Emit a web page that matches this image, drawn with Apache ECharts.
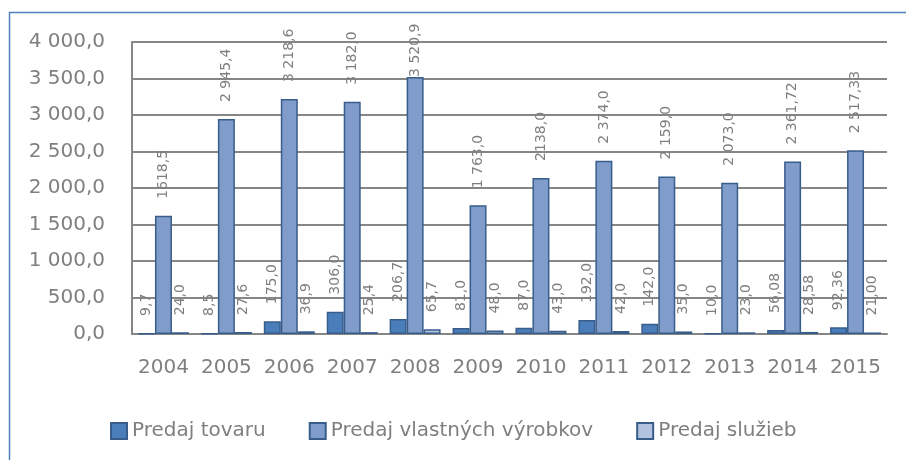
<!DOCTYPE html>
<html lang="sk">
<head>
    <meta charset="UTF-8">
    <title>Predaj 2004-2015</title>
    <script src="https://cdn.jsdelivr.net/npm/echarts@6/dist/echarts.min.js"></script>
    <style>
        html, body { margin: 0; padding: 0; background: #ffffff; }
        #main { width: 906px; height: 460px; }
    </style>
</head>
<body>
<div id="main"></div>

<script type="text/javascript">
    // roky
    var years = ['2004','2005','2006','2007','2008','2009','2010','2011','2012','2013','2014','2015'];

    // hodnoty radov
    var tovaru = [9.7, 8.5, 175.0, 306.0, 206.7, 81.0, 87.0, 192.0, 142.0, 10.0, 56.08, 92.36];
    var vyrobkov = [1618.5, 2945.4, 3218.6, 3182.0, 3520.9, 1763.0, 2138.0, 2374.0, 2159.0, 2073.0, 2361.72, 2517.33];
    var sluzieb = [24.0, 27.6, 36.9, 25.4, 65.7, 48.0, 43.0, 42.0, 35.0, 23.0, 28.58, 21.00];

    // popisky tak ako su v grafe
    var tovaruLbl = ['9,7','8,5','175,0','306,0','206,7','81,0','87,0','192,0','142,0','10,0','56,08','92,36'];
    var vyrobkovLbl = ['1618,5','2 945,4','3 218,6','3 182,0','3 520,9','1 763,0','2138,0','2 374,0','2 159,0','2 073,0','2 361,72','2 517,33'];
    var sluziebLbl = ['24,0','27,6','36,9','25,4','65,7','48,0','43,0','42,0','35,0','23,0','28,58','21,00'];

    var names = ['Predaj tovaru', 'Predaj vlastných výrobkov', 'Predaj služieb'];

    var myChart = echarts.init(document.getElementById('main'));

    var gray = '#7f7f7f';
    var font = 'DejaVu Sans';

    function fmtAxis(v) {
        var s = v.toFixed(1).replace('.', ',');
        return s.replace(/\B(?=(\d{3})+(?!\d))/, ' ');
    }

    function makeSeries(name, values, labels, color) {
        return {
            name: name,
            type: 'bar',
            barGap: '0%',
            barCategoryGap: '19%',
            itemStyle: {
                color: color,
                borderColor: '#385d8a',
                borderWidth: 1.5
            },
            label: {
                show: true,
                position: 'top',
                rotate: 90,
                align: 'left',
                verticalAlign: 'middle',
                distance: 17,
                color: gray,
                fontFamily: font,
                fontSize: 14,
                formatter: function (p) { return labels[p.dataIndex]; }
            },
            data: values.map(function (v) {
                // najvyssi popisok sa v povodnom grafe drzi pri stlpci
                if (v > 3500) {
                    return { value: v, label: { distance: 0 } };
                }
                return v;
            })
        };
    }

    var option = {
        backgroundColor: '#ffffff',
        animation: false,
        graphic: [{
            type: 'rect',
            shape: { x: 9.5, y: 12.5, width: 910, height: 460 },
            style: { fill: 'none', stroke: '#4f81bd', lineWidth: 1.5 }
        }],
        legend: {
            data: names,
            left: 105,
            top: 416,
            itemWidth: 16,
            itemHeight: 16,
            itemGap: 43,
            icon: 'rect',
            textStyle: { color: gray, fontFamily: font, fontSize: 20 }
        },
        grid: {
            left: 132,
            right: 19,
            top: 42,
            bottom: 126
        },
        xAxis: {
            type: 'category',
            data: years,
            axisLine: { lineStyle: { color: '#868686', width: 2 } },
            axisTick: { show: false },
            splitLine: { show: false },
            axisLabel: { interval: 0, color: gray, fontFamily: font, fontSize: 20, margin: 24 }
        },
        yAxis: {
            type: 'value',
            min: 0,
            max: 4000,
            interval: 500,
            axisLine: { show: true, lineStyle: { color: '#868686', width: 2 } },
            axisTick: { show: false },
            splitLine: { lineStyle: { color: '#868686', width: 2 } },
            axisLabel: {
                color: gray, fontFamily: font, fontSize: 20, margin: 27,
                formatter: fmtAxis
            }
        },
        series: [
            makeSeries(names[0], tovaru, tovaruLbl, '#4a7ebb'),
            makeSeries(names[1], vyrobkov, vyrobkovLbl, '#7f9ccb'),
            makeSeries(names[2], sluzieb, sluziebLbl, '#b3c3df')
        ]
    };

    myChart.setOption(option);
</script>
</body>
</html>
